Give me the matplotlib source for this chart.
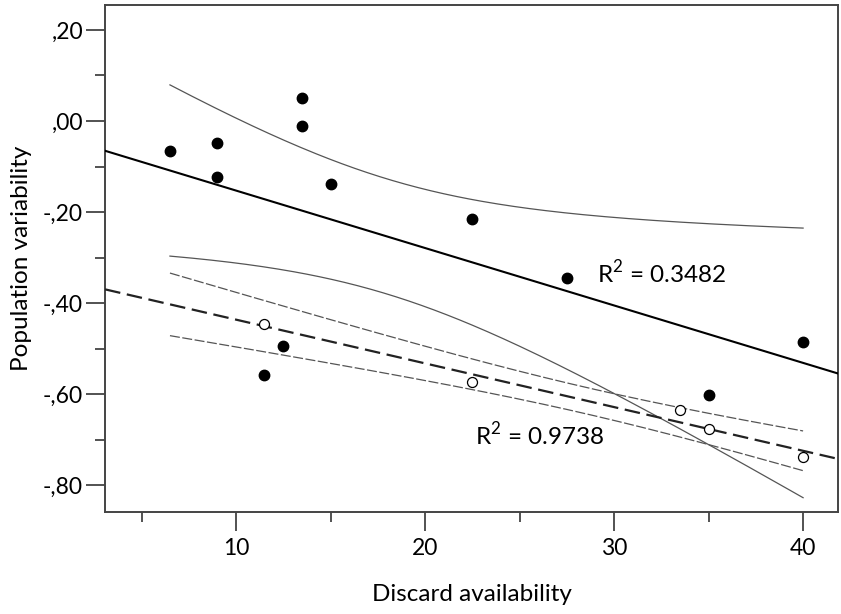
import numpy as np
import matplotlib
matplotlib.use("Agg")
import matplotlib.pyplot as plt
from matplotlib.ticker import FixedLocator, FuncFormatter

plt.rcParams['font.family'] = ['Lato', 'DejaVu Sans']
plt.rcParams['mathtext.fontset'] = 'custom'
plt.rcParams['mathtext.rm'] = 'Lato'

# Filled group
x_filled = [6.5, 9.0, 9.0, 13.5, 13.5, 15.0, 22.5, 27.5, 40.0, 35.0, 11.5, 12.5]
y_filled = [-0.066, -0.048, -0.124, 0.050, -0.012, -0.139, -0.216, -0.344, -0.486, -0.602, -0.557, -0.495]
# Open group
x_open = [11.5, 22.5, 33.5, 35.0, 40.0]
y_open = [-0.446, -0.574, -0.635, -0.677, -0.738]

r2_labels = ["R$^2$ = 0.3482", "R$^2$ = 0.9738"]
x_ticks = [10, 20, 30, 40]
y_ticks = [0.20, 0.00, -0.20, -0.40, -0.60, -0.80]

T_CRIT = {12: 2.228, 5: 3.182}  # t(0.975, n-2)

fig = plt.figure(figsize=(8.41, 6.14), dpi=100)
ax = fig.add_axes([0.125, 0.166, 0.8715, 0.826])

xlim = (3.07, 41.85)
ylim = (-0.859, 0.255)
band_x = np.linspace(min(x_filled + x_open), max(x_filled + x_open), 200)
line_x = np.array(xlim)


def fit_and_bands(xs, ys):
    xs = np.asarray(xs); ys = np.asarray(ys)
    n = len(xs)
    b, a = np.polyfit(xs, ys, 1)
    resid = ys - (a + b * xs)
    s = np.sqrt(np.sum(resid ** 2) / (n - 2))
    sxx = np.sum((xs - xs.mean()) ** 2)
    se = s * np.sqrt(1.0 / n + (band_x - xs.mean()) ** 2 / sxx)
    yb = a + b * band_x
    t = T_CRIT[n]
    return a, b, yb - t * se, yb + t * se


a1, b1, lo1, hi1 = fit_and_bands(x_filled, y_filled)
a2, b2, lo2, hi2 = fit_and_bands(x_open, y_open)

band_col = '#555555'
ax.plot(line_x, a1 + b1 * line_x, color='black', lw=1.5, zorder=3)
ax.plot(band_x, lo1, color=band_col, lw=0.9, zorder=2)
ax.plot(band_x, hi1, color=band_col, lw=0.9, zorder=2)

ax.plot(line_x, a2 + b2 * line_x, color='#222222', lw=1.6, dashes=(7, 3), zorder=3)
ax.plot(band_x, lo2, color=band_col, lw=0.9, dashes=(8, 2), zorder=2)
ax.plot(band_x, hi2, color=band_col, lw=0.9, dashes=(8, 2), zorder=2)

ax.plot(x_filled, y_filled, 'o', color='black', ms=7.5, zorder=4, linestyle='none')
ax.plot(x_open, y_open, 'o', mfc='white', mec='black', mew=0.9, ms=7.2, zorder=4, linestyle='none')

ax.text(29.1, -0.356, r2_labels[0], fontsize=17.5, va='baseline', ha='left')
ax.text(22.65, -0.712, r2_labels[1], fontsize=17.5, va='baseline', ha='left')

ax.set_xlim(*xlim)
ax.set_ylim(*ylim)

ax.xaxis.set_major_locator(FixedLocator(x_ticks))
ax.xaxis.set_minor_locator(FixedLocator([5, 15, 25, 35]))
ax.yaxis.set_major_locator(FixedLocator(y_ticks))
ax.yaxis.set_minor_locator(FixedLocator([0.10, -0.10, -0.30, -0.50, -0.70]))


def yfmt(v, pos):
    s = f"{v:.2f}".replace('.', ',')
    if s.startswith('-0,'):
        s = '-,' + s[3:]
    elif s.startswith('0,'):
        s = s[1:]
    if s == '-,00':
        s = ',00'
    return s


ax.yaxis.set_major_formatter(FuncFormatter(yfmt))

for sp in ax.spines.values():
    sp.set_color('#444444')
    sp.set_linewidth(1.4)

ax.tick_params(which='major', direction='out', length=14, width=1.3, color='#444444', labelsize=16.5, pad=2)
ax.tick_params(which='minor', direction='out', length=7, width=1.3, color='#444444')
ax.tick_params(axis='x', which='major', pad=5)

ax.set_xlabel('Discard availability', fontsize=17.5)
ax.set_ylabel('Population variability', fontsize=17.5)
ax.xaxis.label.set_va('center')
ax.yaxis.label.set_va('center')
ax.xaxis.set_label_coords(0.5, -0.162)
ax.yaxis.set_label_coords(-0.1146, 0.5)

fig.savefig('out.png', dpi=100)
